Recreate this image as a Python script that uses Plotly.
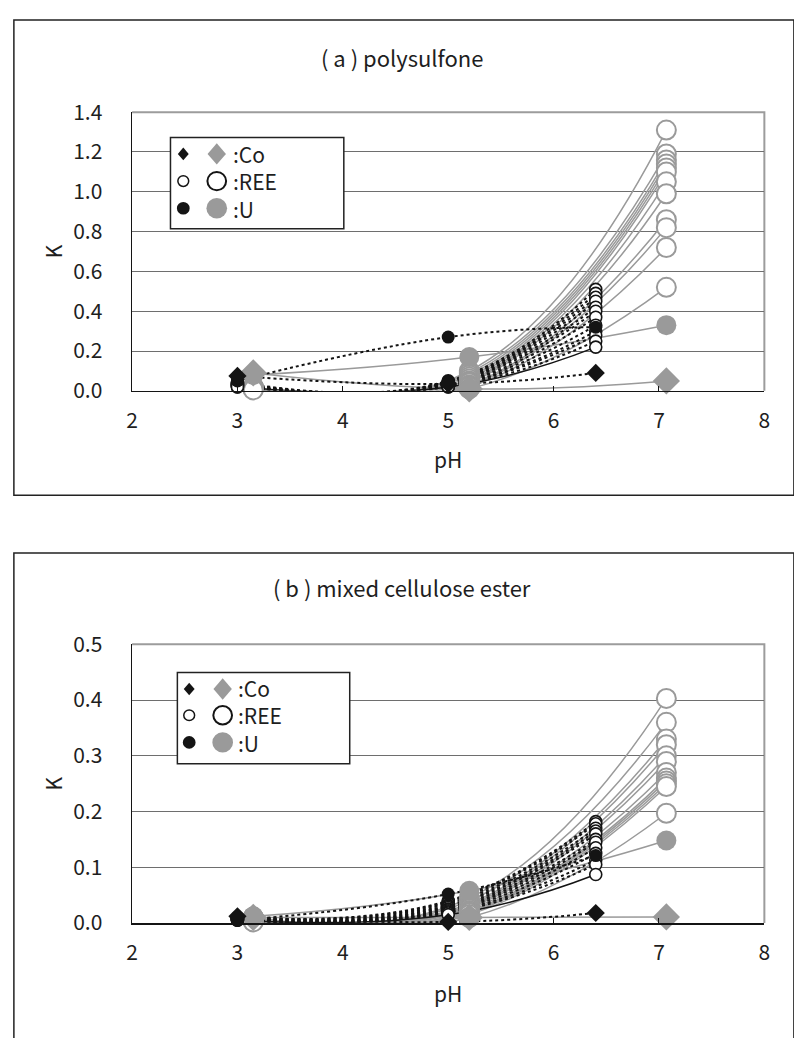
import plotly.graph_objects as go

FIG_W, FIG_H = 794, 1038

# pH of the two measurement sets (black: first set, grey: second set)
PH_BLACK = [3.0, 5.0, 6.4]
PH_GREY = [3.15, 5.2, 7.07]

X_TICKS = [2, 3, 4, 5, 6, 7, 8]
Y_TICKS_A = [0.0, 0.2, 0.4, 0.6, 0.8, 1.0, 1.2, 1.4]
Y_TICKS_B = [0.0, 0.1, 0.2, 0.3, 0.4, 0.5]

# (a) polysulfone -- K at each pH, one row per element
A_REE_BLACK = [
    [0.045, 0.050, 0.51],
    [0.040, 0.045, 0.49],
    [0.040, 0.045, 0.47],
    [0.035, 0.040, 0.45],
    [0.035, 0.040, 0.42],
    [0.030, 0.035, 0.40],
    [0.030, 0.030, 0.37],
    [0.030, 0.030, 0.33],
    [0.025, 0.025, 0.30],
    [0.025, 0.025, 0.28],
    [0.020, 0.020, 0.25],
    [0.020, 0.020, 0.22],
]
A_U_BLACK = [0.050, 0.27, 0.32]
A_CO_BLACK = [0.075, 0.035, 0.09]

A_REE_GREY = [
    [0.020, 0.100, 1.31],
    [0.020, 0.090, 1.19],
    [0.020, 0.080, 1.16],
    [0.020, 0.070, 1.14],
    [0.015, 0.060, 1.12],
    [0.015, 0.050, 1.10],
    [0.015, 0.045, 1.05],
    [0.010, 0.040, 0.99],
    [0.010, 0.030, 0.86],
    [0.010, 0.025, 0.82],
    [0.010, 0.020, 0.72],
    [0.005, 0.010, 0.52],
]
A_U_GREY = [0.080, 0.17, 0.33]
A_CO_GREY = [0.090, 0.010, 0.05]

# (b) mixed cellulose ester
B_REE_BLACK = [
    [0.010, 0.040, 0.182],
    [0.010, 0.038, 0.178],
    [0.009, 0.035, 0.170],
    [0.009, 0.032, 0.165],
    [0.008, 0.030, 0.160],
    [0.008, 0.028, 0.150],
    [0.007, 0.025, 0.145],
    [0.007, 0.024, 0.135],
    [0.006, 0.022, 0.125],
    [0.006, 0.020, 0.113],
    [0.005, 0.018, 0.105],
    [0.005, 0.015, 0.087],
]
B_U_BLACK = [0.005, 0.052, 0.121]
B_CO_BLACK = [0.012, 0.002, 0.018]

B_REE_GREY = [
    [0.010, 0.045, 0.403],
    [0.010, 0.040, 0.360],
    [0.009, 0.035, 0.330],
    [0.009, 0.032, 0.320],
    [0.008, 0.030, 0.300],
    [0.008, 0.028, 0.290],
    [0.007, 0.025, 0.270],
    [0.006, 0.022, 0.260],
    [0.005, 0.020, 0.255],
    [0.004, 0.018, 0.250],
    [0.003, 0.015, 0.245],
    [0.002, 0.010, 0.197],
]
B_U_GREY = [0.012, 0.058, 0.148]
B_CO_GREY = [0.010, 0.010, 0.011]

LEGEND_LABELS = [":Co", ":REE", ":U"]

BLACK = "#141414"
GREY = "#9a9a9a"
TEXT = "#1e1e1e"
FONT = "Noto Sans CJK JP, Noto Sans, sans-serif"


def px(x):
    return x / FIG_W


def py(y):
    return 1 - y / FIG_H


fig = go.Figure()


def add_panel(xa, ya, ree_b, u_b, co_b, ree_g, u_g, co_g):
    common = dict(xaxis=xa, yaxis=ya, showlegend=False, hoverinfo="skip")
    # grey curves (second set)
    for row in ree_g + [u_g, co_g]:
        fig.add_trace(go.Scatter(x=PH_GREY, y=row, mode="lines",
                                 line=dict(color=GREY, width=1.5, shape="spline", smoothing=1.3),
                                 **common))
    # black dotted curves (first set); the lowest REE curve is solid
    for i, row in enumerate(ree_b + [u_b, co_b]):
        solid = i == len(ree_b) - 1
        fig.add_trace(go.Scatter(x=PH_BLACK, y=row, mode="lines",
                                 line=dict(color=BLACK, width=2 if not solid else 1.5,
                                           dash="solid" if solid else "3px,3px",
                                           shape="spline", smoothing=1.3),
                                 **common))
    # grey markers
    for row in ree_g:
        fig.add_trace(go.Scatter(x=PH_GREY, y=row, mode="markers", cliponaxis=False,
                                 marker=dict(symbol="circle", size=19, color="white",
                                             line=dict(color=GREY, width=2)), **common))
    fig.add_trace(go.Scatter(x=PH_GREY, y=u_g, mode="markers", cliponaxis=False,
                             marker=dict(symbol="circle", size=20, color=GREY,
                                         line=dict(color=GREY, width=0)), **common))
    fig.add_trace(go.Scatter(x=PH_GREY, y=co_g, mode="markers", cliponaxis=False,
                             marker=dict(symbol="diamond", size=21, color=GREY,
                                         line=dict(color=GREY, width=0)), **common))
    # black markers
    for row in ree_b:
        fig.add_trace(go.Scatter(x=PH_BLACK, y=row, mode="markers", cliponaxis=False,
                                 marker=dict(symbol="circle", size=12, color="white",
                                             line=dict(color=BLACK, width=1.6)), **common))
    fig.add_trace(go.Scatter(x=PH_BLACK, y=u_b, mode="markers", cliponaxis=False,
                             marker=dict(symbol="circle", size=13, color=BLACK,
                                         line=dict(color=BLACK, width=0)), **common))
    fig.add_trace(go.Scatter(x=PH_BLACK, y=co_b, mode="markers", cliponaxis=False,
                             marker=dict(symbol="diamond", size=14, color=BLACK,
                                         line=dict(color=BLACK, width=0)), **common))


add_panel("x", "y", A_REE_BLACK, A_U_BLACK, A_CO_BLACK, A_REE_GREY, A_U_GREY, A_CO_GREY)
add_panel("x2", "y2", B_REE_BLACK, B_U_BLACK, B_CO_BLACK, B_REE_GREY, B_U_GREY, B_CO_GREY)

x_dom = [px(128), px(770)]
xaxis_style = dict(domain=x_dom, range=[2, 8], tickvals=X_TICKS, showline=True,
                   linecolor=BLACK, linewidth=1.5, ticks="inside", ticklen=5,
                   tickcolor=BLACK, tickwidth=1, showgrid=False, zeroline=False,
                   tickfont=dict(family=FONT, size=21, color=TEXT),
                   ticklabelstandoff=10, fixedrange=True)
yaxis_style = dict(showline=True, linecolor=BLACK, linewidth=1.5, ticks="",
                   showgrid=True, gridcolor="#6e6e6e", gridwidth=1, zeroline=False,
                   tickformat=".1f", tickfont=dict(family=FONT, size=21, color=TEXT),
                   ticklabelstandoff=24, fixedrange=True)

fig.update_layout(
    width=FIG_W, height=FIG_H, autosize=False,
    margin=dict(l=0, r=0, t=0, b=0),
    paper_bgcolor="white", plot_bgcolor="white",
    xaxis=dict(anchor="y", **xaxis_style),
    yaxis=dict(anchor="x", domain=[py(385), py(98)], range=[0, 1.4],
               tickvals=Y_TICKS_A, **yaxis_style),
    xaxis2=dict(anchor="y2", **xaxis_style),
    yaxis2=dict(anchor="x2", domain=[py(933), py(646)], range=[0, 0.5],
                tickvals=Y_TICKS_B, **yaxis_style),
)

shapes = []
# chart frames
shapes.append(dict(type="rect", xref="paper", yref="paper", x0=px(8), x1=px(800),
                   y0=py(492.5), y1=py(3), line=dict(color="#222", width=1.5),
                   layer="below"))
shapes.append(dict(type="rect", xref="paper", yref="paper", x0=px(8), x1=px(800),
                   y0=py(1060), y1=py(552), line=dict(color="#222", width=1.5),
                   layer="below"))
# grey plot-area borders (top and right)
for xr, yr in (("x", "y"), ("x2", "y2")):
    shapes.append(dict(type="path", xref=f"{xr} domain", yref=f"{yr} domain",
                       path="M 0,1 L 1,1 L 1,0", line=dict(color="#9c9c9c", width=2),
                       layer="below"))


def legend_shapes(box, rows, x_small, x_big):
    x0, x1, y0, y1 = box
    out = [dict(type="rect", xref="paper", yref="paper", x0=px(x0), x1=px(x1),
                y0=py(y1), y1=py(y0), fillcolor="white",
                line=dict(color="#222", width=1.5), layer="above")]

    def circle(cx, cy, r, fill, line_color, lw):
        return dict(type="circle", xref="paper", yref="paper",
                    x0=px(cx - r), x1=px(cx + r), y0=py(cy + r), y1=py(cy - r),
                    fillcolor=fill, line=dict(color=line_color, width=lw), layer="above")

    def diamond(cx, cy, r, fill):
        p = (f"M {px(cx)},{py(cy - r)} L {px(cx + r * 0.85)},{py(cy)} "
             f"L {px(cx)},{py(cy + r)} L {px(cx - r * 0.85)},{py(cy)} Z")
        return dict(type="path", xref="paper", yref="paper", path=p,
                    fillcolor=fill, line=dict(color=fill, width=0), layer="above")

    r_co, r_ree, r_u = rows
    out.append(diamond(x_small, r_co, 6.5, BLACK))
    out.append(diamond(x_big, r_co, 11, GREY))
    out.append(circle(x_small, r_ree, 5.5, "white", BLACK, 1.5))
    out.append(circle(x_big, r_ree, 9.5, "white", BLACK, 2))
    out.append(circle(x_small, r_u, 6.5, BLACK, BLACK, 0))
    out.append(circle(x_big, r_u, 10.5, GREY, GREY, 0))
    return out


shapes += legend_shapes((167, 343, 124, 218), (141, 169, 197), 180, 214)
shapes += legend_shapes((174, 349, 675, 769), (692, 719, 747), 186, 220)
fig.update_layout(shapes=shapes)

annotations = []


def text(x, y, s, size=21, angle=0, xanchor="center"):
    annotations.append(dict(x=px(x), y=py(y), xref="paper", yref="paper", text=s,
                            showarrow=False, xanchor=xanchor, yanchor="middle",
                            textangle=angle, align="left",
                            font=dict(family=FONT, size=size, color=TEXT)))


text(402, 41, "( a ) polysulfone", size=22)
text(402, 587, "( b ) mixed cellulose ester", size=22)
text(48, 241, "K", angle=-90)
text(48, 789, "K", angle=-90)
text(449, 455, "pH")
text(449, 1005, "pH")
# legend labels, one text block per legend
text(228, 169, "<br>".join(LEGEND_LABELS), size=21, xanchor="left")
text(234, 719, "<br>".join(LEGEND_LABELS), size=21, xanchor="left")
fig.update_layout(annotations=annotations)

fig.write_html("out.html", config={"displayModeBar": False, "staticPlot": True},
               post_script="document.body.style.margin='0';")
